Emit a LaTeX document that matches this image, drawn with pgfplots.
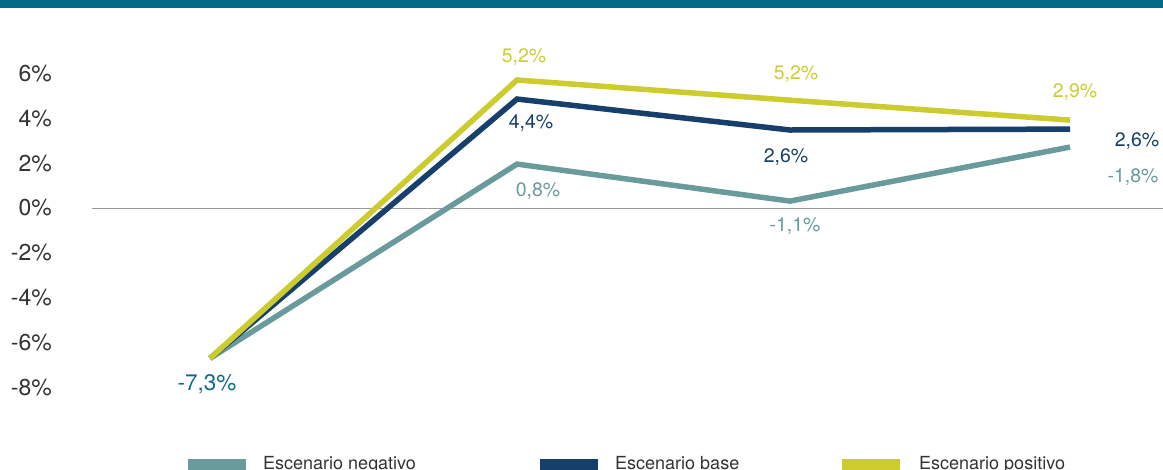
\documentclass[border=0pt]{standalone}
\usepackage{fontspec}
\setmainfont{TeX Gyre Heros}
\usepackage{pgfplots}
\pgfplotsset{compat=1.18}
\definecolor{topbar}{HTML}{006A87}
\definecolor{cneg}{HTML}{6A9B9C}
\definecolor{cbase}{HTML}{163F6B}
\definecolor{cpos}{HTML}{CCCC2E}
\definecolor{clab}{HTML}{0F6A87}
\definecolor{ctxt}{HTML}{333333}
\begin{document}
\begin{tikzpicture}[x=1pt,y=1pt]
\useasboundingbox (0,0) rectangle (1163,470);
\fill[topbar] (0,462) rectangle (1163,471);
\begin{axis}[
  at={(92pt,82.5pt)}, anchor=south west,
  scale only axis, width=1071pt, height=314pt,
  xmin=92, xmax=1163, ymin=-8, ymax=6,
  clip=false,
  axis line style={draw=none},
  major tick style={draw=none},
  xtick=\empty,
  ytick={-8,-6,-4,-2,0,2,4,6},
  yticklabels={-8\%,-6\%,-4\%,-2\%,0\%,2\%,4\%,6\%},
  yticklabel style={font=\fontsize{23}{27}\selectfont, text=ctxt, inner sep=0pt, anchor=east, xshift=-40pt},
  every axis plot/.append style={line width=5.5pt, line join=miter, line cap=butt},
]
\draw[color=black!40, line width=1pt] (axis cs:92,0) -- (axis cs:1163,0);
\addplot[cneg] coordinates {(210,-6.7) (517,1.96) (790,0.31) (1070,2.72)};
\addplot[cbase] coordinates {(210,-6.7) (517,4.86) (790,3.48) (1070,3.52)};
\addplot[cpos] coordinates {(210,-6.7) (517,5.71) (790,4.81) (1070,3.92)};
\begin{scope}[every node/.style={font=\fontsize{19.5}{23}\selectfont}]
\node[text=cpos] at (axis cs:524,6.73) {5,2\%};
\node[text=cbase] at (axis cs:531,3.79) {4,4\%};
\node[text=cneg] at (axis cs:538,0.76) {0,8\%};
\node[text=cpos] at (axis cs:796,5.97) {5,2\%};
\node[text=cbase] at (axis cs:786,2.27) {2,6\%};
\node[text=cneg] at (axis cs:795,-0.80) {-1,1\%};
\node[text=cpos] at (axis cs:1075,5.17) {2,9\%};
\node[text=cbase] at (axis cs:1137,2.99) {2,6\%};
\node[text=cneg] at (axis cs:1133,1.38) {-1,8\%};
\end{scope}
\node[text=clab, font=\fontsize{22.5}{26}\selectfont] at (axis cs:207,-7.85) {-7,3\%};
\end{axis}
\begin{scope}[every node/.style={font=\fontsize{18}{21}\selectfont, text=ctxt, anchor=base west, inner sep=0pt}]
\fill[cneg] (188,-1) rectangle (246,11);
\node at (263,0.5) {Escenario negativo};
\fill[cbase] (540,-1) rectangle (598,11);
\node at (615,0.5) {Escenario base};
\fill[cpos] (842,-1) rectangle (900,11);
\node at (919,0.5) {Escenario positivo};
\end{scope}
\end{tikzpicture}
\end{document}
